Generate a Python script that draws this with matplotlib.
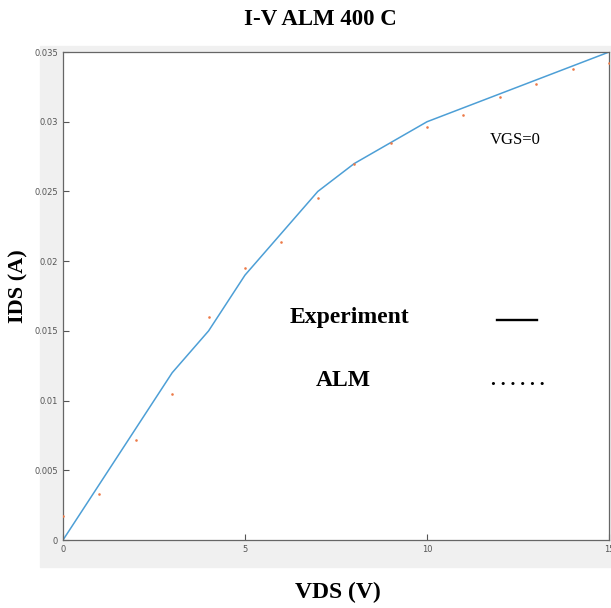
import matplotlib.pyplot as plt
from matplotlib.patches import Rectangle
from matplotlib.lines import Line2D

# --- data --- #
vds_exp = [0, 3, 4, 5, 6, 7, 8, 9, 10, 15]
ids_exp = [0, 0.012, 0.015, 0.019, 0.022, 0.025, 0.027, 0.0285, 0.030, 0.035]

vds_alm = [0, 1, 2, 3, 4, 5, 6, 7, 8, 9, 10, 11, 12, 13, 14, 15]
ids_alm = [0.0017, 0.0033, 0.0072, 0.0105, 0.016, 0.0195, 0.0214, 0.0245,
           0.027, 0.0285, 0.0296, 0.0305, 0.0318, 0.0327, 0.0338, 0.0342]

xticks = [0, 5, 10, 15]
yticks = [0, 0.005, 0.01, 0.015, 0.02, 0.025, 0.03, 0.035]
ytick_labels = ['0', '0.005', '0.01', '0.015', '0.02', '0.025', '0.03', '0.035']

serif = 'Liberation Serif'

fig = plt.figure(figsize=(6.11, 6.08), dpi=100)

# grey matlab-like panel behind the axes
fig.patches.append(Rectangle((0.0655, 0.0674), 0.9345, 0.857,
                             transform=fig.transFigure, color='#f0f0f0', zorder=-5))

ax = fig.add_axes([0.1031, 0.1118, 0.8936, 0.8026])
ax.set_zorder(2)
ax.set_facecolor('white')
ax.plot(vds_exp, ids_exp, color='#4d9fd6', lw=1.1)
ax.scatter(vds_alm, ids_alm, s=3.5, color='#ec7a48', zorder=3, linewidths=0)

ax.set_xlim(0, 15)
ax.set_ylim(0, 0.035)
ax.set_xticks(xticks)
ax.set_yticks(yticks)
ax.set_yticklabels(ytick_labels)
ax.tick_params(direction='in', length=4, width=0.8, colors='#555555',
               labelsize=6, labelcolor='#555555', top=False, right=False)
for s in ax.spines.values():
    s.set_color('#666666')
    s.set_linewidth(0.9)

fig.text(0.525, 0.968, 'I-V ALM 400 C', ha='center', va='center',
         family=serif, weight='bold', fontsize=16.5)
fig.text(0.553, 0.025, 'VDS (V)', ha='center', va='center',
         family=serif, weight='bold', fontsize=17)
fig.text(0.03, 0.53, 'IDS (A)', ha='center', va='center', rotation=90,
         family=serif, weight='bold', fontsize=16)

ax.text(0.828, 0.82, 'VGS=0', transform=ax.transAxes, ha='center', va='center',
        family=serif, fontsize=12)
ax.text(0.524, 0.455, 'Experiment', transform=ax.transAxes, ha='center', va='center',
        family=serif, weight='bold', fontsize=17)
ax.text(0.514, 0.326, 'ALM', transform=ax.transAxes, ha='center', va='center',
        family=serif, weight='bold', fontsize=17)

# hand-drawn legend keys
ax.add_line(Line2D([0.795, 0.868], [0.451, 0.451], transform=ax.transAxes,
                   color='black', lw=1.7))
ax.text(0.833, 0.327, '. . . . . .', transform=ax.transAxes, ha='center', va='center',
        family=serif, weight='bold', fontsize=14)

fig.savefig('out.png', dpi=100)
